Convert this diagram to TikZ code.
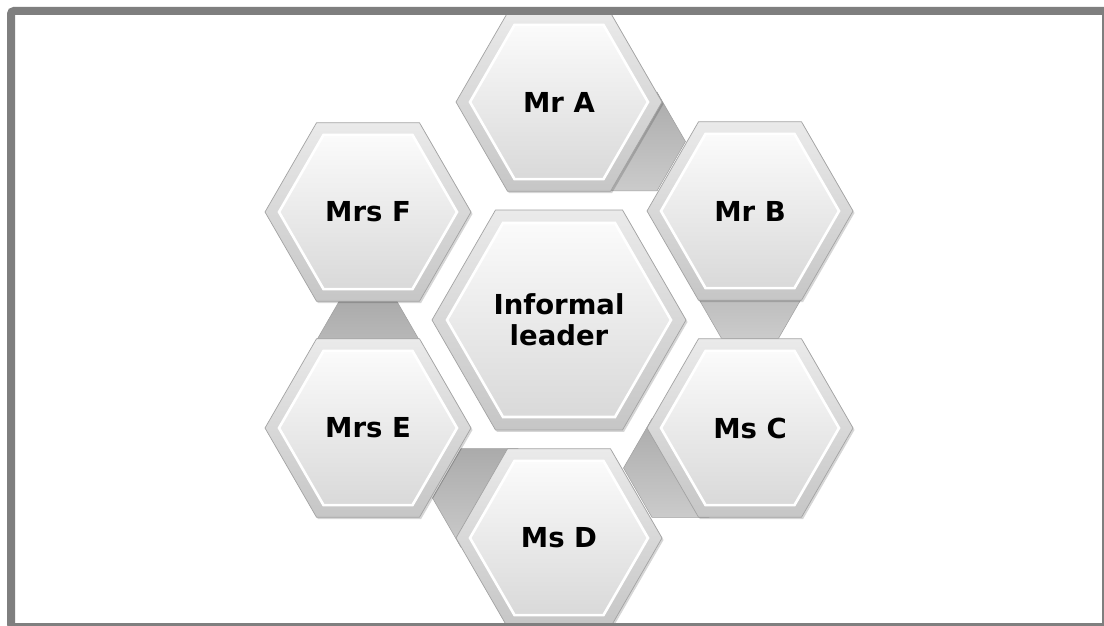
\documentclass[tikz,border=0pt]{standalone}
\usepackage{fontspec}
\newfontfamily\labelfont{DejaVu Sans}
\usetikzlibrary{shapes.geometric,shadows}

\definecolor{framegray}{HTML}{7F7F7F}
\definecolor{rimline}{HTML}{A3A3A3}
\definecolor{rimtop}{HTML}{EAEAEA}
\definecolor{rimbot}{HTML}{C6C6C6}
\definecolor{facetop}{HTML}{FBFBFB}
\definecolor{facebot}{HTML}{D9D9D9}
\definecolor{linkline}{HTML}{9E9E9E}
\definecolor{linktop}{HTML}{ABABAB}
\definecolor{linkbot}{HTML}{CBCBCB}

\begin{document}
\begin{tikzpicture}[x=1pt,y=-1pt,
  hexbase/.style={regular polygon, regular polygon sides=6, inner sep=0pt, outer sep=0pt},
  rim/.style={hexbase, minimum size=#1, draw=rimline, line width=0.7pt,
    top color=rimtop, bottom color=rimbot,
    drop shadow={shadow xshift=1.5pt, shadow yshift=-2pt, opacity=0.16, fill=black}},
  face/.style={hexbase, minimum size=#1, draw=white, line width=2.6pt,
    top color=facetop, bottom color=facebot, text=black, align=center,
    font=\labelfont\bfseries\fontsize{27.5}{31}\selectfont},
  link/.style={hexbase, minimum size=114pt, draw=linkline, line width=0.5pt,
    top color=linktop, bottom color=linkbot}]

\useasboundingbox (0,0) rectangle (1104,626);
\clip (0,0) rectangle (1104,626);
\fill[white] (0,0) rectangle (1104,626);

% small hexagons linking neighbouring members (mostly hidden)
\node[link] (ab) at (628.5,141.5) {};
\node[link] (bc) at (750,289) {};
\node[link] (cd) at (680.5,468) {};
\node[link] (de) at (489.5,498) {};
\node[link] (ef) at (368,350) {};

% outer ring of members
\foreach \name/\px/\py/\txt in {a/559/102/Mr A, b/750/211/Mr B, c/750/428/Ms C,
                               d/559/538/Ms D, e/368/428/Mrs E, f/368/212/Mrs F}{
  \node[rim=206pt] (\name) at (\px,\py) {};
  \node[face=178pt] (\name-face) at (\name) {\txt};
}

% central hexagon
\node[rim=254pt] (leader) at (559,320) {};
\node[face=224pt] (leader-face) at (leader) {Informal\\leader};

% frame
\draw[framegray, line width=8pt, rounded corners=3pt] (11,11) rectangle (1106,627);
\end{tikzpicture}
\end{document}
